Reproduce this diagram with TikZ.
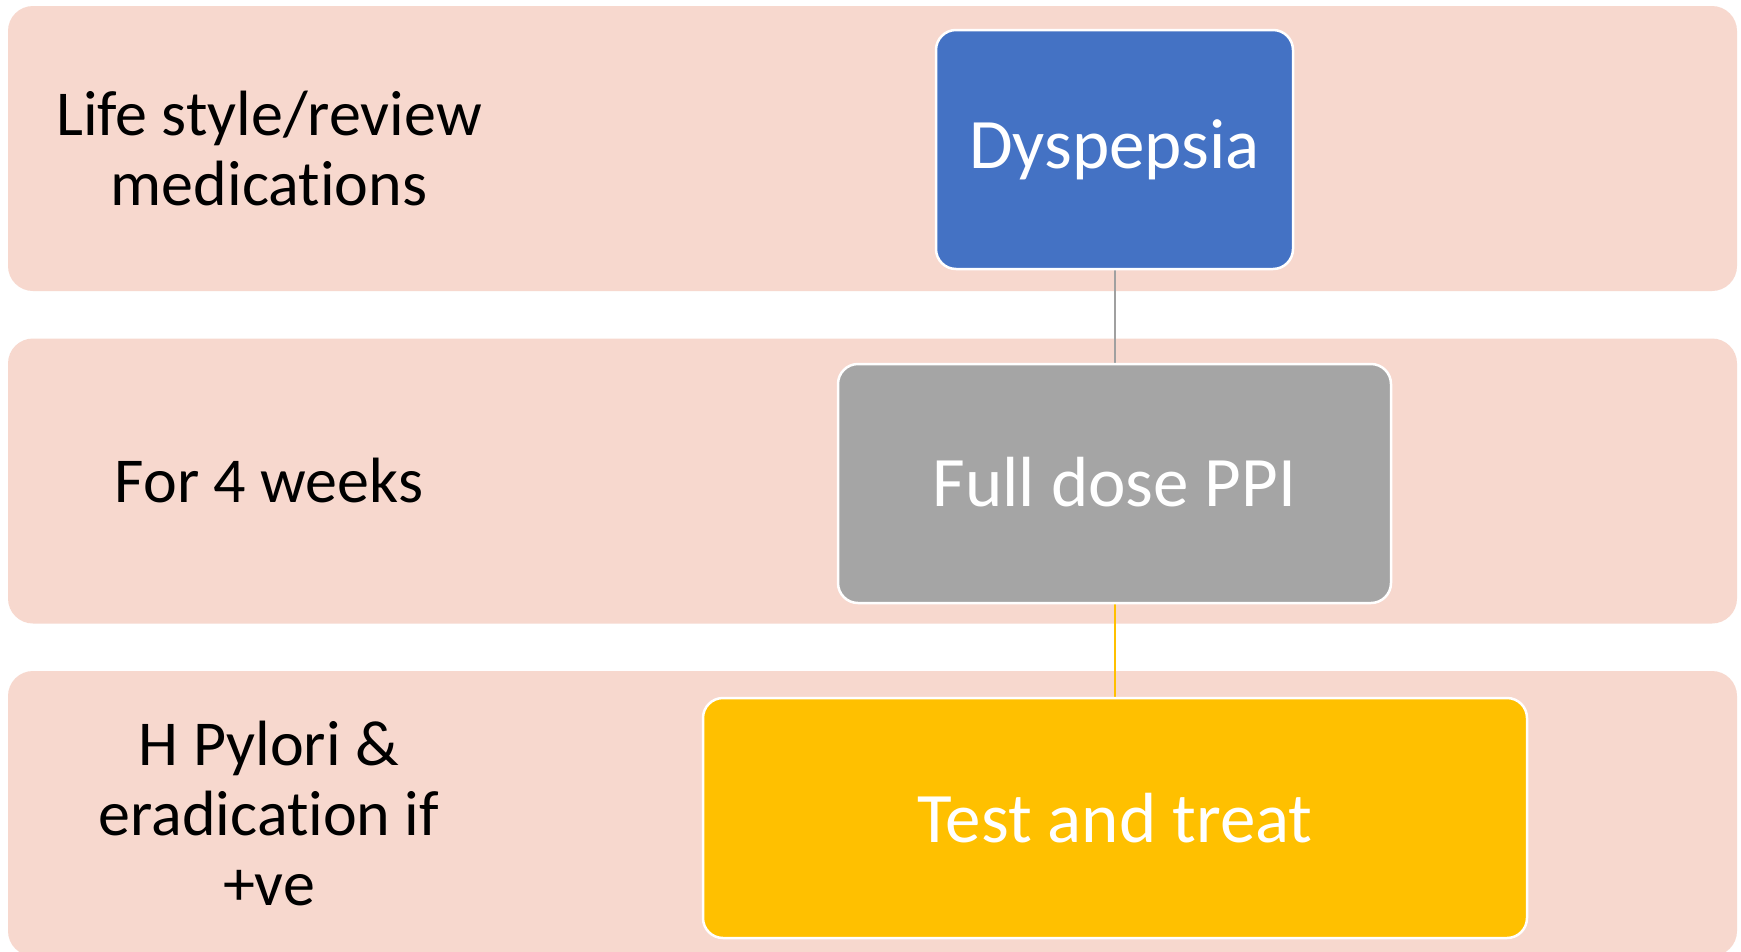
\documentclass[tikz,border=0pt]{standalone}
\usepackage{fontspec}
\setmainfont{Carlito}[Ligatures=NoCommon]
\definecolor{bandfill}{HTML}{F7D8CE}
\definecolor{boxblue}{HTML}{4472C4}
\definecolor{boxgray}{HTML}{A5A5A5}
\definecolor{boxgold}{HTML}{FFC000}
\definecolor{linkgray}{HTML}{A0A0A0}
\tikzset{
  band/.style={fill=bandfill, draw=none, rounded corners=25pt,
    minimum width=1729pt, minimum height=285pt, inner sep=0pt},
  sidelabel/.style={align=center, text=black, inner sep=0pt,
    font=\fontsize{64}{70}\selectfont},
  stepbox/.style={draw=white, line width=2.5pt, rounded corners=20pt,
    minimum height=239pt, inner sep=0pt, text=white,
    font=\fontsize{71}{84}\selectfont},
  link/.style={line width=2pt}
}
\begin{document}
\begin{tikzpicture}[x=1pt,y=-1pt]
  \useasboundingbox (0,0) rectangle (1741,951);
  \fill[white] (0,0) rectangle (1741,951);

  % horizontal bands
  \node[band] (band1) at (872.5,148.5) {};
  \node[band] (band2) at (872.5,481) {};
  \node[band] (band3) at (872.5,813.5) {};

  % labels on the left of each band
  \node[sidelabel] (lab1) at (269,148.5) {Life style/review\\medications};
  \node[sidelabel] (lab2) at (269,481) {For 4 weeks};
  \node[sidelabel] (lab3) at (269,813.5) {H Pylori \&\\eradication if\\+ve};

  % connectors
  \coordinate (c1) at (1114.5,269);
  \coordinate (c2) at (1114.5,364);
  \coordinate (c3) at (1114.5,603);
  \coordinate (c4) at (1114.5,698);
  \draw[link, linkgray] (c1) -- (c2);
  \draw[link, boxgold] (c3) -- (c4);

  % steps
  \node[stepbox, fill=boxblue, minimum width=357pt] (dys) at (1114.5,149.5) {Dyspepsia};
  \node[stepbox, fill=boxgray, minimum width=553pt] (ppi) at (1114.5,483.5) {\raisebox{3pt}{Full dose PPI}};
  \node[stepbox, fill=boxgold, minimum width=824pt, minimum height=240pt] (test) at (1115,818) {Test and treat};
\end{tikzpicture}
\end{document}
